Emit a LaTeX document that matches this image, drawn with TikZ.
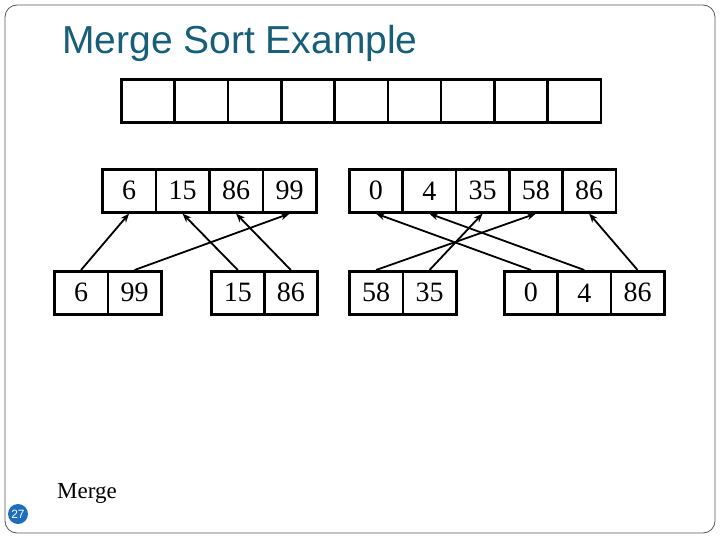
\documentclass[tikz,border=0pt]{standalone}
\usepackage{fontspec}
\setmainfont{Liberation Serif}
\newfontfamily\titlefont{Liberation Sans}
\usetikzlibrary{arrows.meta}
\definecolor{ttl}{RGB}{23,94,120}
\definecolor{pgblue}{RGB}{30,110,190}
\tikzset{
 cell/.style={draw,line width=2.6pt,minimum height=43pt,inner sep=0pt,font=\fontsize{28}{28}\selectfont,anchor=north west},
 arr/.style={-{Stealth[length=9pt,width=7pt]},line width=1.8pt}
}
\newcommand{\arrayrow}[6]{% name, x0, y0, cellwidth, count, list
 \foreach \v [count=\i] in {#6}{
  \node[cell,minimum width=#4pt] (#1\i) at ({#2pt+(\i-1)*#4pt},{-#3pt}) {\v};
 }}
\begin{document}
\begin{tikzpicture}[x=1pt,y=-1pt]
\useasboundingbox (0,0) rectangle (720,540);
\draw[rounded corners=12pt,line width=0.8pt,gray!70!black] (5,5) rectangle (715,533) ;
\node[anchor=west,font=\titlefont\fontsize{39}{39}\selectfont,text=ttl,inner sep=0pt] (title) at (62,43) {Merge Sort Example};
\arrayrow{T}{120}{78}{53.3}{9}{{},{},{},{},{},{},{},{},{}}
\arrayrow{A}{101}{168}{53.5}{4}{6,15,86,99}
\arrayrow{B}{348}{168}{53.3}{5}{0,4,35,58,86}
\arrayrow{C}{53}{270}{53.5}{2}{6,99}
\arrayrow{D}{210}{270}{53}{2}{15,86}
\arrayrow{E}{348}{270}{53.5}{2}{58,35}
\arrayrow{F}{503}{270}{53.3}{3}{0,4,86}
\draw[arr] (C1.north) -- (A1.south);
\draw[arr] (C2.north) -- (A4.south);
\draw[arr] (D1.north) -- (A2.south);
\draw[arr] (D2.north) -- (A3.south);
\draw[arr] (E1.north) -- (B4.south);
\draw[arr] (E2.north) -- (B3.south);
\draw[arr] (F1.north) -- (B1.south);
\draw[arr] (F2.north) -- (B2.south);
\draw[arr] (F3.north) -- (B5.south);
\node[anchor=west,font=\fontsize{23}{23}\selectfont,inner sep=0pt] (merge) at (57,493) {Merge};
\node[circle,fill=pgblue,inner sep=0pt,minimum size=20pt,text=white,font=\titlefont\fontsize{12}{12}\selectfont] (pg) at (18,514) {27};
\end{tikzpicture}
\end{document}
